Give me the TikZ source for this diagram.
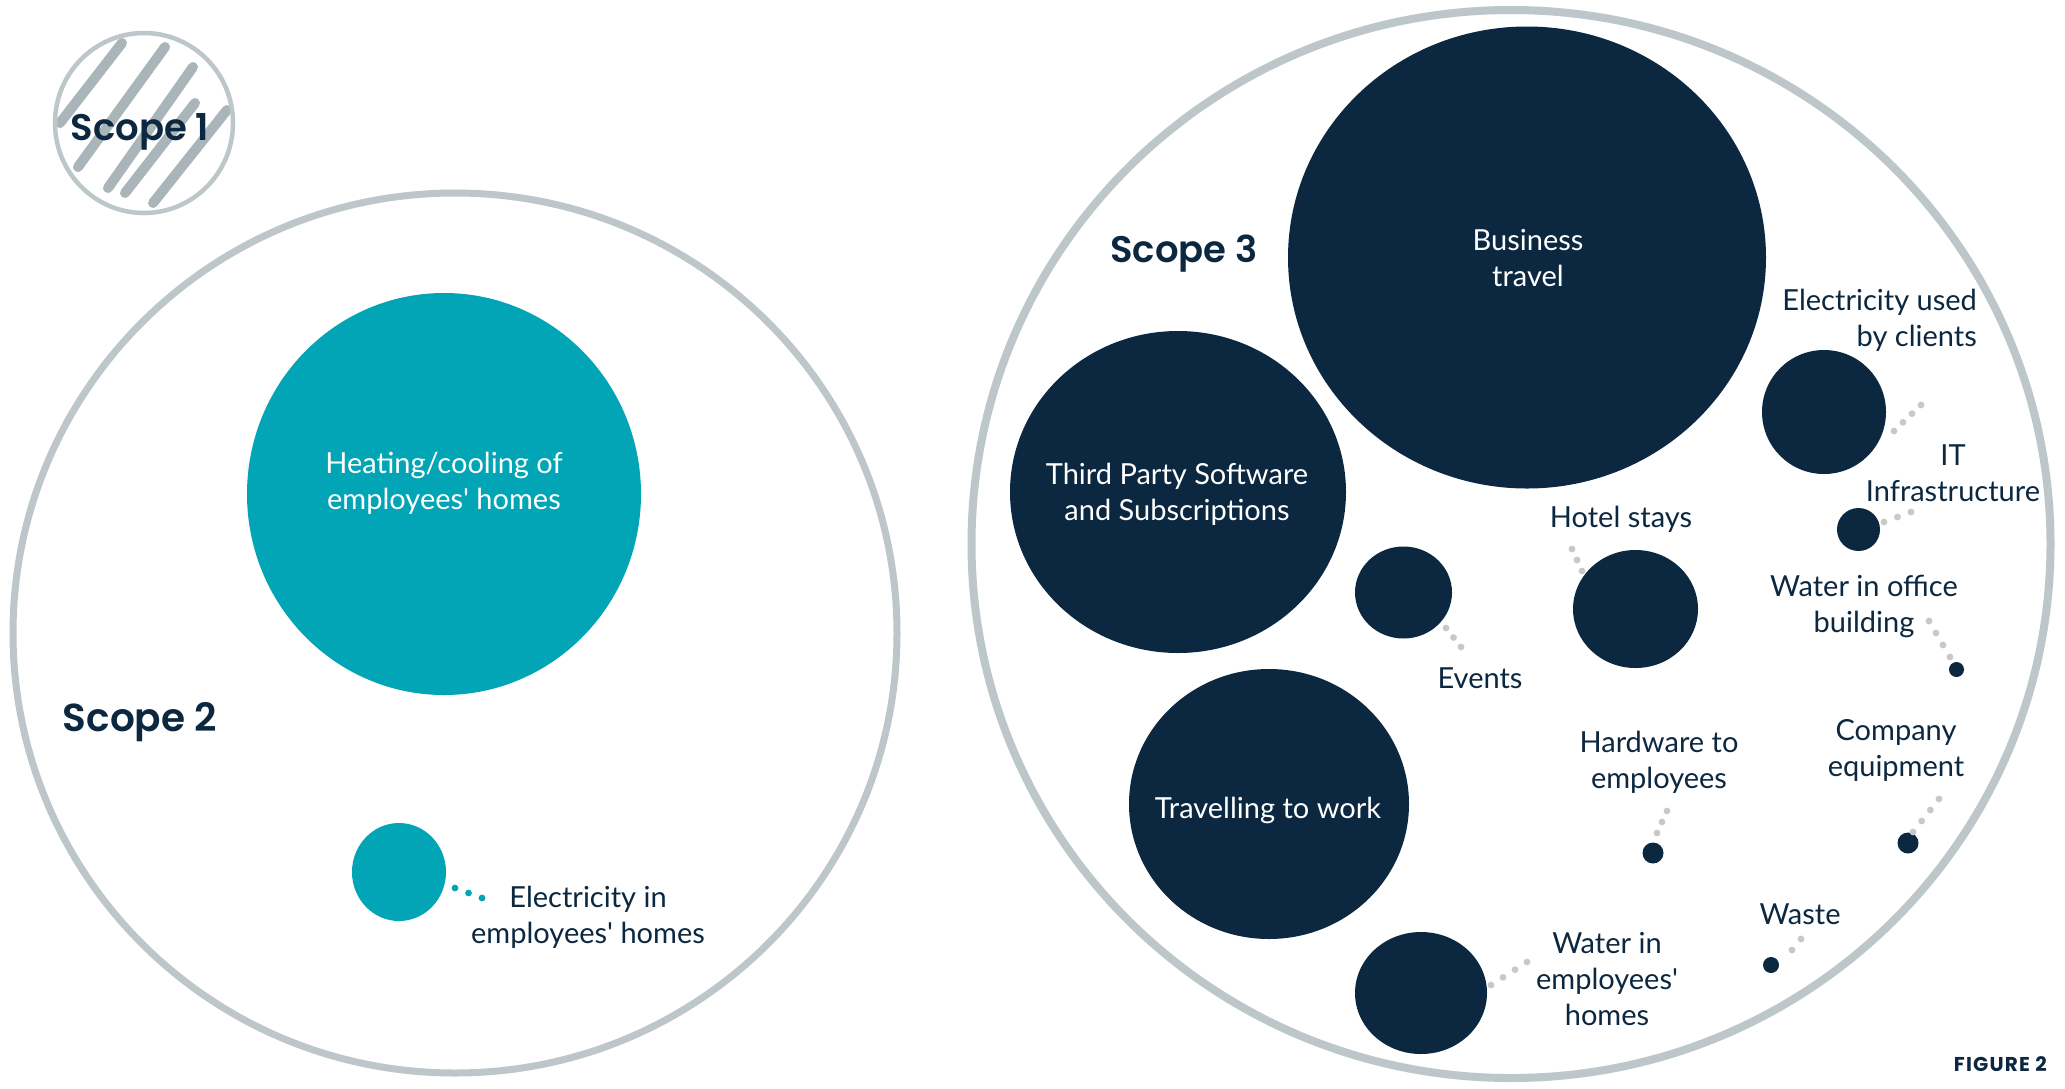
\documentclass[tikz,border=0pt]{standalone}
\usepackage{fontspec}
\setmainfont{Lato}
\newfontfamily\headfont{Poppins}[UprightFont=* SemiBold, BoldFont=* SemiBold]
\newfontfamily\figfont{Poppins}[LetterSpace=6]
\usetikzlibrary{shapes.geometric,calc}
\definecolor{navy}{HTML}{0C2840}
\definecolor{tealc}{HTML}{02A5B5}
\definecolor{ring}{HTML}{BDC6C8}
\definecolor{hatch}{HTML}{A9B5B8}
\definecolor{dotg}{HTML}{C8C8C8}
\newcommand\ap{\textquotesingle}
\newcommand\dotchain[4][dotg]{\foreach \k in {0,...,#4}{\fill[#1] ($(#2)!{\k/#4}!(#3)$) circle (3.4pt);}}
\begin{document}
\begin{tikzpicture}[x=1pt,y=-1pt,
  blob/.style={ellipse, fill=#1, draw=none, inner sep=0pt},
  ringc/.style={ellipse, draw=ring, line width=#1, fill=none, inner sep=0pt},
  lbl/.style={font=\fontsize{29}{36}\selectfont, text=navy, align=center, inner sep=0pt},
  wlbl/.style={lbl, text=white},
  scopelbl/.style={font=\headfont\fontsize{37}{40}\selectfont, text=navy, inner sep=0pt},
  hatchline/.style={draw=hatch, line width=10pt, line cap=round}]
\useasboundingbox[fill=white] (0,0) rectangle (2065,1088);

% ---------- Scope 1 ----------
\coordinate (h1a) at (60,123);  \coordinate (h1b) at (122,43);
\coordinate (h2a) at (78,167);  \coordinate (h2b) at (165,47);
\coordinate (h3a) at (108,188); \coordinate (h3b) at (193,67);
\coordinate (h4a) at (125,193); \coordinate (h4b) at (195,103);
\coordinate (h5a) at (153,203); \coordinate (h5b) at (227,110);
\foreach \i in {1,...,5}{\draw[hatchline] (h\i a) -- (h\i b);}
\node[ringc=4.5pt, minimum width=178pt, minimum height=180pt] (s1) at (144,123) {};
\node[scopelbl] (s1t) at (140,132) {Scope 1};

% ---------- Scope 2 ----------
\node[ringc=7pt, minimum width=884pt, minimum height=880pt] (s2) at (455,633) {};
\node[blob=tealc, minimum width=394pt, minimum height=402pt] (heat) at (444,494) {};
\node[wlbl] (heatt) at (444,483) {Heating/cooling of\\employees\ap\ homes};
\node[blob=tealc, minimum width=94pt, minimum height=98pt] (elh) at (399,872) {};
\node[lbl] (elht) at (588,917) {Electricity in\\employees\ap\ homes};
\coordinate (elhA) at (455,888); \coordinate (elhB) at (482,898);
\dotchain[tealc]{elhA}{elhB}{2}
\node[scopelbl, font=\headfont\fontsize{39}{42}\selectfont] (s2t) at (140,722) {Scope 2};

% ---------- Scope 3 ----------
\node[ringc=8pt, minimum width=1079pt, minimum height=1068pt] (s3) at (1511,544) {};
\node[scopelbl] (s3t) at (1184,254) {Scope 3};

\node[blob=navy, minimum width=478pt, minimum height=462pt] (bt) at (1527,257.5) {};
\node[wlbl] (btt) at (1528,258) {Business\\travel};

\node[blob=navy, minimum width=336pt, minimum height=322pt] (tp) at (1178,492) {};
\node[wlbl] (tpt) at (1177,494.5) {Third Party Software\\and Subscriptions};

\node[blob=navy, minimum width=280pt, minimum height=270pt] (tw) at (1269,804) {};
\node[wlbl] (twt) at (1268,810) {Travelling to work};

\node[blob=navy, minimum width=97pt, minimum height=92pt] (ev) at (1403.5,592.5) {};
\node[lbl] (evt) at (1480,678) {Events};
\coordinate (evA) at (1446,628); \coordinate (evB) at (1461,647);
\dotchain{evA}{evB}{2}

\node[blob=navy, minimum width=125pt, minimum height=118pt] (ho) at (1635.5,609) {};
\node[lbl] (hot) at (1621,519) {Hotel stays};
\coordinate (hoA) at (1572,549); \coordinate (hoB) at (1582,571);
\dotchain{hoA}{hoB}{2}

\node[blob=navy, minimum width=132pt, minimum height=122pt] (wh) at (1421,993) {};
\node[lbl] (wht) at (1607,979) {Water in\\employees\ap\\homes};
\coordinate (whA) at (1491,985); \coordinate (whB) at (1527,962);
\dotchain{whA}{whB}{3}

\node[blob=navy, minimum size=124pt] (cl) at (1824,412) {};
\node[lbl, align=right, anchor=east] (clt) at (1977,320.5) {Electricity used\\by clients};
\coordinate (clA) at (1894,431); \coordinate (clB) at (1921,405);
\dotchain{clA}{clB}{3}

\node[blob=navy, minimum size=43pt] (it) at (1858.5,529.5) {};
\node[lbl] (itt) at (1953,473) {IT\\Infrastructure};
\coordinate (itA) at (1884,522); \coordinate (itB) at (1911,512);
\dotchain{itA}{itB}{2}

\node[blob=navy, minimum size=15pt] (wo) at (1956.5,669.5) {};
\node[lbl] (wot) at (1864,606) {Water in office\\building};
\coordinate (woA) at (1929,621); \coordinate (woB) at (1950,657);
\dotchain{woA}{woB}{3}

\node[blob=navy, minimum size=21pt] (hw) at (1653,853) {};
\node[lbl] (hwt) at (1659,762) {Hardware to\\employees};
\coordinate (hwA) at (1657,833); \coordinate (hwB) at (1667,811);
\dotchain{hwA}{hwB}{2}

\node[blob=navy, minimum size=21pt] (ce) at (1908,843) {};
\node[lbl] (cet) at (1896,750.5) {Company\\equipment};
\coordinate (ceA) at (1913,832); \coordinate (ceB) at (1939,799);
\dotchain{ceA}{ceB}{3}

\node[blob=navy, minimum size=16pt] (wa) at (1771,965) {};
\node[lbl] (wat) at (1800,914) {Waste};
\coordinate (waA) at (1792,950); \coordinate (waB) at (1801,939);
\dotchain{waA}{waB}{1}

\node[font=\figfont\bfseries\fontsize{20}{22}\selectfont, text=navy, anchor=east, inner sep=0pt] (fig) at (2047,1064) {FIGURE 2};
\end{tikzpicture}
\end{document}
